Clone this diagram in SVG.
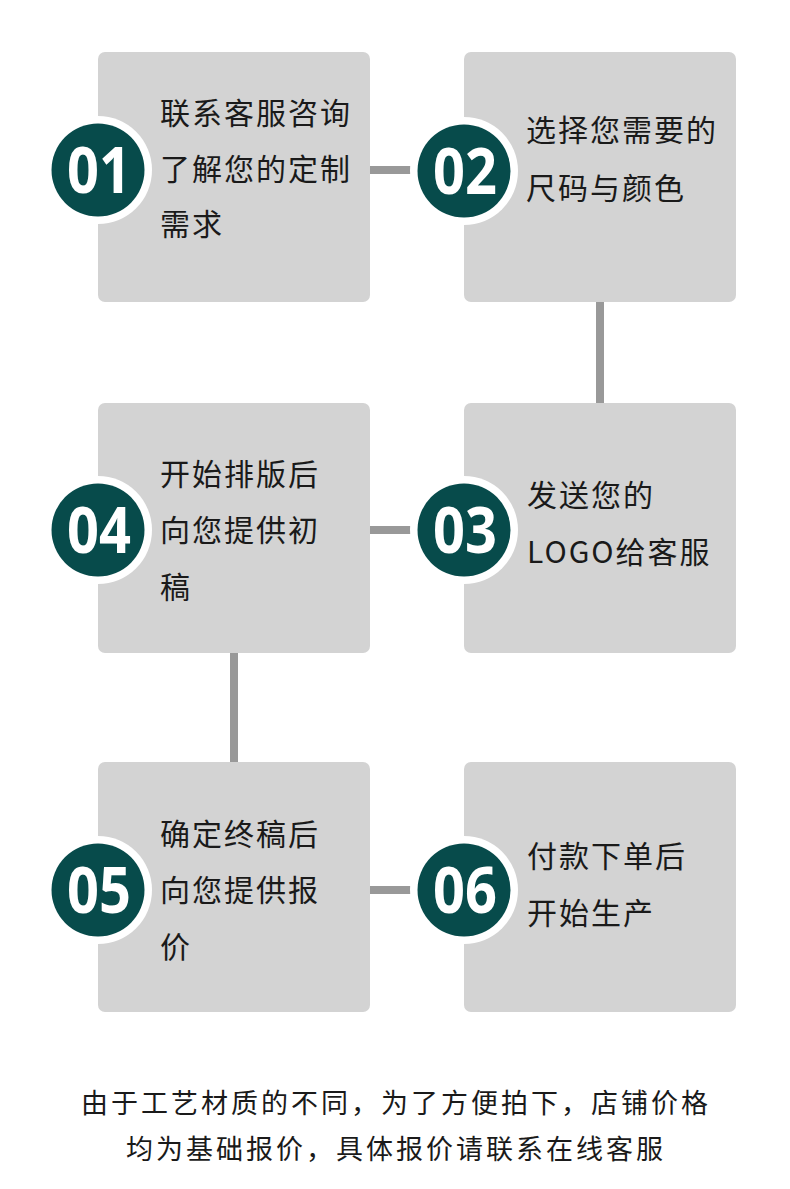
<svg xmlns="http://www.w3.org/2000/svg" width="790" height="1189" viewBox="0 0 790 1189">
<style>
.box{fill:#d3d3d3}
.ring{fill:#ffffff}
.dot{fill:#074b4b}
.num{font-family:"Noto Sans","Liberation Sans",sans-serif;font-weight:bold;font-size:64px;fill:#ffffff;text-anchor:middle}
.t{font-family:"Noto Sans CJK SC","Noto Sans",sans-serif;font-size:30px;letter-spacing:2px;fill:#1a1a1a}
.foot{font-family:"Noto Sans CJK SC","Noto Sans",sans-serif;font-size:27px;letter-spacing:3px;fill:#1a1a1a;text-anchor:middle}
.conn{stroke:#999999;stroke-width:8;fill:none}
</style>
<rect width="790" height="1189" fill="#ffffff"/>
<g id="connectors">
<line class="conn" x1="370" y1="170" x2="412" y2="170"/>
<line class="conn" x1="600" y1="302" x2="600" y2="403"/>
<line class="conn" x1="370" y1="530" x2="412" y2="530"/>
<line class="conn" x1="234" y1="653" x2="234" y2="762"/>
<line class="conn" x1="370" y1="890" x2="412" y2="890"/>
</g>
<g id="step1">
<rect class="box" x="98" y="52" width="272" height="250" rx="7"/>
<circle class="ring" cx="98" cy="170" r="54"/>
<circle class="dot" cx="98" cy="170" r="46.5"/>
<text class="num" x="99" y="193" textLength="64" lengthAdjust="spacingAndGlyphs">01</text>
<text class="t" x="160" y="124">联系客服咨询</text>
<text class="t" x="160" y="180">了解您的定制</text>
<text class="t" x="160" y="235">需求</text>
</g>
<g id="step2">
<rect class="box" x="464" y="52" width="272" height="250" rx="7"/>
<circle class="ring" cx="464" cy="171" r="54"/>
<circle class="dot" cx="464" cy="171" r="46.5"/>
<text class="num" x="465" y="194" textLength="64" lengthAdjust="spacingAndGlyphs">02</text>
<text class="t" x="526" y="141">选择您需要的</text>
<text class="t" x="526" y="199">尺码与颜色</text>
</g>
<g id="step3">
<rect class="box" x="464" y="403" width="272" height="250" rx="7"/>
<circle class="ring" cx="464" cy="530" r="54"/>
<circle class="dot" cx="464" cy="530" r="46.5"/>
<text class="num" x="465" y="553" textLength="64" lengthAdjust="spacingAndGlyphs">03</text>
<text class="t" x="527" y="506">发送您的</text>
<text class="t" x="527" y="563">LOGO给客服</text>
</g>
<g id="step4">
<rect class="box" x="98" y="403" width="272" height="250" rx="7"/>
<circle class="ring" cx="98" cy="530" r="54"/>
<circle class="dot" cx="98" cy="530" r="46.5"/>
<text class="num" x="99" y="553" textLength="64" lengthAdjust="spacingAndGlyphs">04</text>
<text class="t" x="160" y="485">开始排版后</text>
<text class="t" x="160" y="541">向您提供初</text>
<text class="t" x="160" y="598">稿</text>
</g>
<g id="step5">
<rect class="box" x="98" y="762" width="272" height="250" rx="7"/>
<circle class="ring" cx="98" cy="890" r="54"/>
<circle class="dot" cx="98" cy="890" r="46.5"/>
<text class="num" x="99" y="913" textLength="64" lengthAdjust="spacingAndGlyphs">05</text>
<text class="t" x="160" y="845">确定终稿后</text>
<text class="t" x="160" y="901">向您提供报</text>
<text class="t" x="160" y="958">价</text>
</g>
<g id="step6">
<rect class="box" x="464" y="762" width="272" height="250" rx="7"/>
<circle class="ring" cx="464" cy="890" r="54"/>
<circle class="dot" cx="464" cy="890" r="46.5"/>
<text class="num" x="465" y="913" textLength="64" lengthAdjust="spacingAndGlyphs">06</text>
<text class="t" x="527" y="867">付款下单后</text>
<text class="t" x="527" y="924">开始生产</text>
</g>
<g id="footer">
<text class="foot" x="396" y="1113">由于工艺材质的不同，为了方便拍下，店铺价格</text>
<text class="foot" x="396" y="1159">均为基础报价，具体报价请联系在线客服</text>
</g>
</svg>
